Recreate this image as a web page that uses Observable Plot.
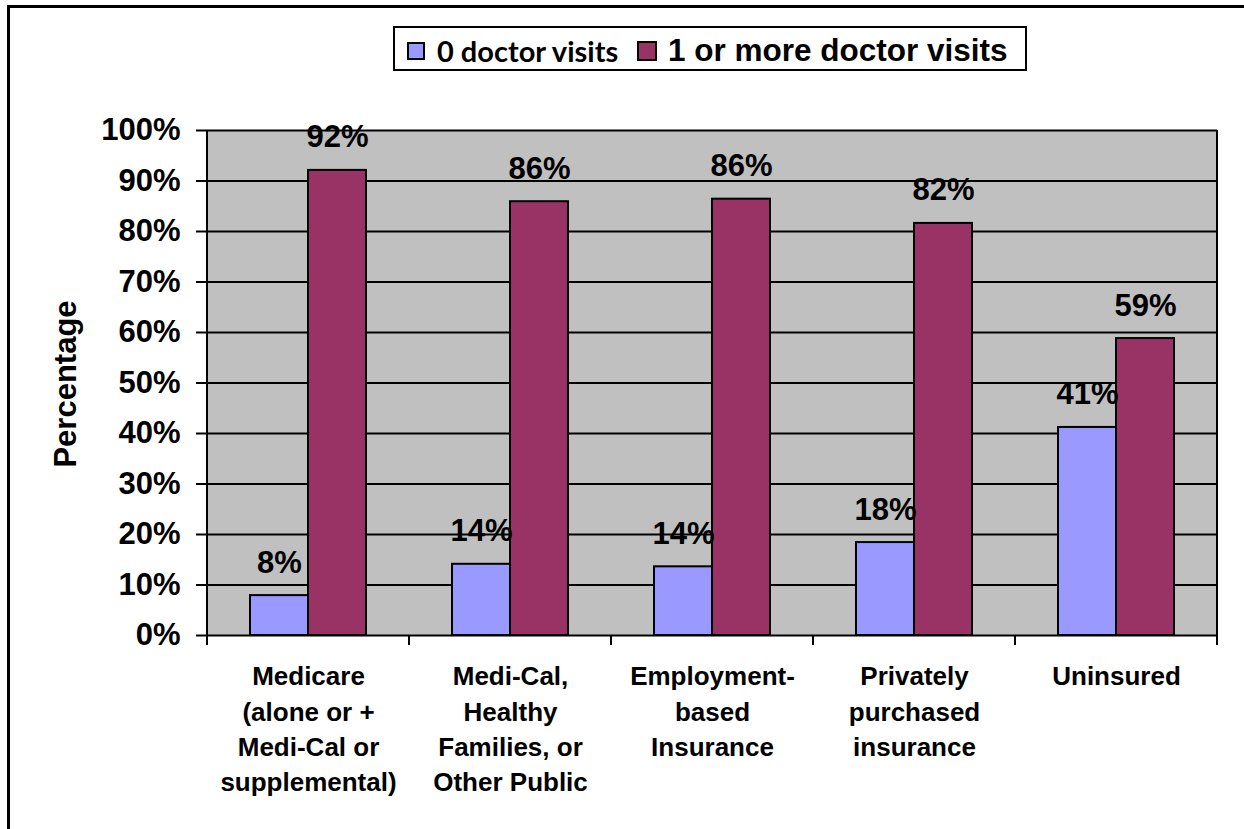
<!DOCTYPE html>
<html>
<head>
<meta charset="utf-8">
<script src="https://cdn.jsdelivr.net/npm/d3@7"></script>
<script src="https://cdn.jsdelivr.net/npm/@observablehq/plot@0.6"></script>
<style>
  body { margin: 0; background: #fff; }
  #wrap { position: relative; width: 1244px; height: 829px; overflow: hidden; font-family: "Liberation Sans", Arial, sans-serif; }
  #border { position: absolute; left: 7px; top: 5px; width: 1300px; height: 900px; border-top: 3px solid #000; border-left: 3px solid #000; }
  #chart { position: absolute; left: 0; top: 0; }
  #legend { position: absolute; left: 393px; top: 26px; width: 630px; height: 41px; border: 2px solid #000; background: #fff; }
  .sw { position: absolute; border: 2px solid #000; box-sizing: border-box; }
  .lt { position: absolute; font-weight: bold; white-space: nowrap; color: #000; }
  #ylabel { position: absolute; left: 66px; top: 384px; transform: translate(-50%, -50%) rotate(-90deg); font-size: 31px; font-weight: bold; white-space: nowrap; color: #000; }
</style>
</head>
<body>
<div id="wrap">
  <div id="border"></div>
  <div id="chart"></div>
  <div id="legend">
    <div class="sw" style="left:12px;top:14px;width:18px;height:18px;background:#9999FF"></div>
    <div class="lt" style="left:42px;top:8px;font-family:Lato,'Open Sans',sans-serif;font-size:29px;line-height:29px;">0 doctor visits</div>
    <div class="sw" style="left:242px;top:13px;width:20px;height:20px;background:#993366"></div>
    <div class="lt" style="left:273px;top:7px;font-size:31.5px;line-height:31.5px;">1 or more doctor visits</div>
  </div>
  <div id="ylabel">Percentage</div>
</div>
<script>
const categories = [
  "Medicare\n(alone or +\nMedi-Cal or\nsupplemental)",
  "Medi-Cal,\nHealthy\nFamilies, or\nOther Public",
  "Employment-\nbased\nInsurance",
  "Privately\npurchased\ninsurance",
  "Uninsured"
];
const series = ["0 doctor visits", "1 or more doctor visits"];
const zeroVisits = [7.9, 14.1, 13.6, 18.4, 41.2];
const oneOrMoreVisits = [92.1, 85.9, 86.4, 81.6, 58.8];
const zeroLabels = ["8%", "14%", "14%", "18%", "41%"];
const oneOrMoreLabels = ["92%", "86%", "86%", "82%", "59%"];
const yTicks = [0, 10, 20, 30, 40, 50, 60, 70, 80, 90, 100];
const seriesColors = ["#9999FF", "#993366"];

const rows = [];
categories.forEach((c, i) => {
  rows.push({category: c, series: series[0], value: zeroVisits[i], label: zeroLabels[i]});
  rows.push({category: c, series: series[1], value: oneOrMoreVisits[i], label: oneOrMoreLabels[i]});
});

const font = "'Liberation Sans', Arial, sans-serif";

const chart = Plot.plot({
  width: 1244,
  height: 829,
  marginLeft: 207,
  marginRight: 27,
  marginTop: 130,
  marginBottom: 194,
  style: {fontFamily: font, fontWeight: "bold", color: "#000", background: "transparent", overflow: "visible"},
  fx: {domain: categories, padding: 0, label: null},
  x: {domain: series, paddingInner: 0, paddingOuter: 0.74, axis: null},
  y: {domain: [0, 100], label: null},
  color: {domain: series, range: seriesColors},
  marks: [
    Plot.ruleY(yTicks, {stroke: "#000", strokeWidth: 2}),
    Plot.barY(rows, {fx: "category", x: "series", y: "value", fill: "series", stroke: "#000", strokeWidth: 2}),
    Plot.text(rows, {fx: "category", x: "series", y: "value", text: "label", lineAnchor: "bottom", dy: -23, fontSize: 31, fontWeight: "bold", fill: "#000"}),
    Plot.axisY({ticks: yTicks, tickFormat: d => d + "%", tickSize: 11, tickPadding: 16, fontSize: 31, fontWeight: "bold", strokeWidth: 2, label: null}),
    Plot.axisFx({anchor: "bottom", tickSize: 0, tickPadding: 25, fontSize: 26, fontWeight: "bold", lineHeight: 1.35, label: null})
  ]
});

document.getElementById("chart").appendChild(chart);

// plot-area background, frame edges and category boundary ticks derived from the plot's scales
const fxs = chart.scale("fx");
const ys = chart.scale("y");
const yTop = ys.apply ? ys.apply(100) : ys.range[1];
const yBot = ys.apply ? ys.apply(0) : ys.range[0];
const r0 = Math.min(...fxs.range), r1 = Math.max(...fxs.range);
const stepW = (r1 - r0) / categories.length;
const edges = d3.range(categories.length + 1).map(i => r0 + i * stepW);
const svg = d3.select(chart);
svg.insert("rect", ":first-child")
  .attr("x", r0).attr("y", yTop).attr("width", r1 - r0).attr("height", yBot - yTop)
  .attr("fill", "#C0C0C0");
const g = svg.append("g").attr("stroke", "#000").attr("stroke-width", 2);
[edges[0], edges[edges.length - 1]].forEach(x => {
  g.append("line").attr("x1", x).attr("x2", x).attr("y1", yTop).attr("y2", yBot);
});
edges.forEach(x => {
  g.append("line").attr("x1", x).attr("x2", x).attr("y1", yBot).attr("y2", yBot + 10);
});
</script>
</body>
</html>
